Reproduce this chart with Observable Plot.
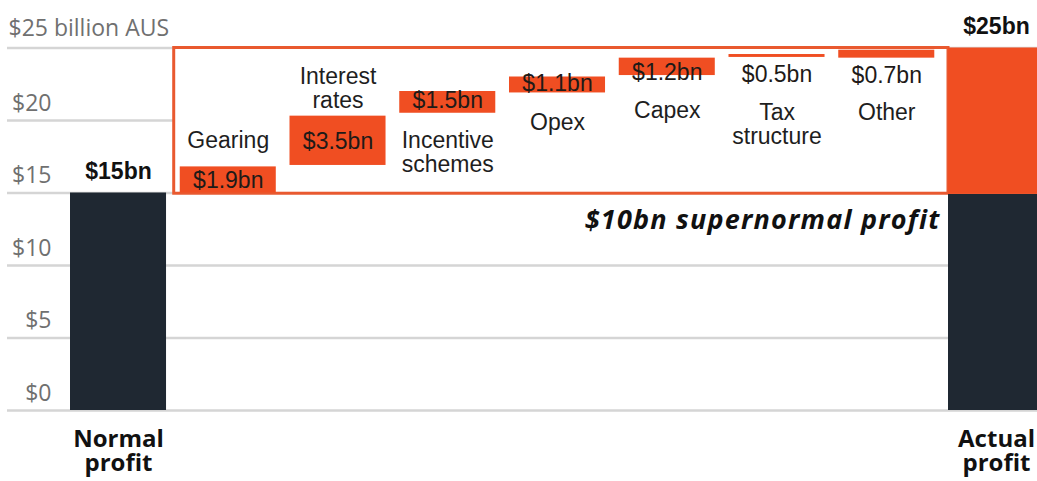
<!DOCTYPE html>
<html>
<head>
<meta charset="utf-8">
<script src="https://cdn.jsdelivr.net/npm/d3@7"></script>
<script src="https://cdn.jsdelivr.net/npm/@observablehq/plot@0.6"></script>
<style>
  html, body { margin: 0; padding: 0; background: #ffffff; overflow: hidden; }
  #chart svg { display: block; }
  #chart g[font-style="italic"], #chart g[font-style="italic"] text { letter-spacing: 1.2px; }
</style>
</head>
<body>
<div id="chart"></div>
<script>
// ---- data ----
const categories = ["Normal profit", "Gearing", "Interest rates", "Incentive schemes", "Opex", "Capex", "Tax structure", "Other", "Actual profit"];
const endLabels = ["Normal\nprofit", "Actual\nprofit"];
const normalProfit = 15;
const actualProfit = 25;
const actualSplit = 14.9;
const stepNames = ["Gearing", "Interest\nrates", "Incentive\nschemes", "Opex", "Capex", "Tax\nstructure", "Other"];
const stepValues = [1.9, 3.5, 1.5, 1.1, 1.2, 0.5, 0.7];
const stepLow  = [15.0, 16.9, 20.5, 21.9, 23.1, 24.35, 24.3];
const stepHigh = [16.8, 20.3, 22.0, 23.0, 24.3, 24.55, 24.85];
const yTicks = [0, 5, 10, 15, 20];
const yTickLabels = ["$0", "$5", "$10", "$15", "$20"];
const yTopTick = 25;
const yTopLabel = "$25 billion AUS";
const supernormalLabel = "$10bn supernormal profit";

// ---- layout (code, not data) ----
const ORANGE = "#f04e22";
const DARK = "#1f2832";
const BOX = "#e9592f";
const BAR = 0.875; // bar width as fraction of a step
// per step: which bar edge labels hang from, and pixel offset of the last baseline
const layout = [
  {val: ["lo", -5.5], cat: ["hi", -18.5]},
  {val: ["lo", -16],  cat: ["hi", -8.5]},
  {val: ["lo", -5.5], cat: ["lo", 59]},
  {val: ["lo", -1.5], cat: ["lo", 37.5]},
  {val: ["lo", 4],    cat: ["lo", 42]},
  {val: ["lo", 25],   cat: ["lo", 87]},
  {val: ["lo", 24.5], cat: ["lo", 61.5]}
];

const idx = Object.fromEntries(categories.map((c, i) => [c, i]));
const steps = stepNames.map((name, k) => ({
  name,
  i: k + 1,
  lo: stepLow[k],
  hi: stepHigh[k],
  label: `$${stepValues[k]}bn`,
  lay: layout[k]
}));

const darkBars = [
  {i: idx["Normal profit"], lo: 0, hi: normalProfit},
  {i: idx["Actual profit"], lo: 0, hi: actualSplit}
];
const orangeTotal = [{i: idx["Actual profit"], lo: actualSplit, hi: actualProfit}];

const sans = "'Liberation Sans', Arial, Helvetica, sans-serif";
const open = "'Open Sans', 'Noto Sans', sans-serif";

const chart = Plot.plot({
  width: 1037,
  height: 481,
  marginLeft: 7,
  marginRight: 0,
  marginTop: 0,
  marginBottom: 0,
  x: {type: "linear", domain: [0, 8], range: [70, 948], axis: null},
  y: {type: "linear", domain: [0, 25], range: [410, 47.5], axis: null},
  style: {background: "#ffffff", fontFamily: sans, overflow: "hidden"},
  marks: [
    // gridlines
    Plot.ruleY([...yTicks, yTopTick], {stroke: "#d5d5d5", strokeWidth: 2.5}),
    // tick labels
    Plot.text(yTicks, {
      y: d => d, text: (d, k) => yTickLabels[k], frameAnchor: "left", dx: 44,
      textAnchor: "end", lineAnchor: "bottom", dy: -10,
      fontFamily: open, fontSize: 23, fill: "#707070"
    }),
    Plot.text([yTopTick], {
      y: d => d, text: () => yTopLabel, frameAnchor: "left", dx: 1,
      textAnchor: "start", lineAnchor: "bottom", dy: -12,
      fontFamily: open, fontSize: 23, fill: "#707070"
    }),
    // white box with orange outline
    Plot.rect([{x1: idx["Gearing"] - 0.055, x2: idx["Actual profit"], y1: 14.95, y2: actualProfit}], {
      x1: "x1", x2: "x2", y1: "y1", y2: "y2", fill: "#ffffff", stroke: BOX, strokeWidth: 3
    }),
    // end bars
    Plot.rect(darkBars, {x1: d => d.i, x2: d => d.i + BAR, y1: "lo", y2: "hi", fill: DARK}),
    Plot.rect(orangeTotal, {x1: d => d.i, x2: d => d.i + BAR, y1: "lo", y2: "hi", fill: ORANGE}),
    // step bars
    Plot.rect(steps, {x1: d => d.i, x2: d => d.i + BAR, y1: "lo", y2: "hi", fill: ORANGE}),
    // value labels
    ...steps.map(s => Plot.text([s], {
      x: d => d.i + BAR / 2, y: d => d[d.lay.val[0]], dy: s.lay.val[1], text: "label",
      lineAnchor: "bottom", fontSize: 23, fill: "#1e1a18"
    })),
    // step names
    ...steps.map(s => Plot.text([s], {
      x: d => d.i + BAR / 2, y: d => d[d.lay.cat[0]], dy: s.lay.cat[1], text: "name",
      lineAnchor: "bottom", lineHeight: 1.05, fontSize: 23, fill: "#1e1e1e"
    })),
    // totals
    Plot.text([normalProfit], {
      x: () => idx["Normal profit"] + BAR / 2, y: d => d, text: d => `$${d}bn`,
      lineAnchor: "bottom", dy: -14.5, fontSize: 23, fontWeight: "bold", fill: "#111"
    }),
    Plot.text([actualProfit], {
      x: () => idx["Actual profit"] + BAR / 2, y: d => d, text: d => `$${d}bn`,
      lineAnchor: "bottom", dy: -14.5, fontSize: 23, fontWeight: "bold", fill: "#111"
    }),
    // supernormal annotation
    Plot.text([supernormalLabel], {
      x: () => idx["Actual profit"], y: () => normalProfit, text: d => d,
      textAnchor: "end", lineAnchor: "bottom", dx: -8, dy: 35.5,
      fontFamily: open, fontSize: 27, fontWeight: "bold", fontStyle: "italic", fill: "#111"
    }),
    // bottom category labels
    Plot.text(endLabels, {
      x: (d, k) => (k === 0 ? idx["Normal profit"] : idx["Actual profit"]) + BAR / 2,
      y: () => 0, text: d => d,
      lineAnchor: "bottom", dy: 60, lineHeight: 1.0,
      fontFamily: open, fontSize: 24, fontWeight: "bold", fill: "#111"
    })
  ]
});

document.getElementById("chart").appendChild(chart);
</script>
</body>
</html>
